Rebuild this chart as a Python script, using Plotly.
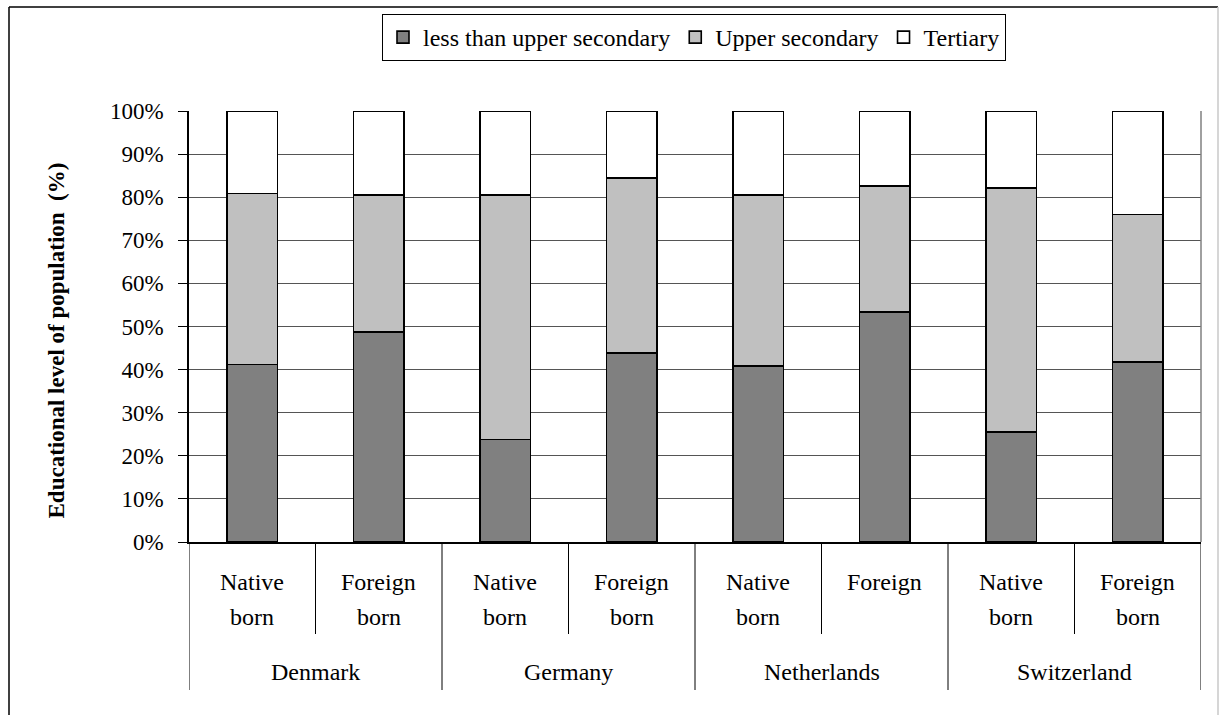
import plotly.graph_objects as go

# ---- data ----
countries = ["Denmark", "Germany", "Netherlands", "Switzerland"]
groups = ["Native born", "Foreign born", "Native born", "Foreign born",
          "Native born", "Foreign", "Native born", "Foreign born"]
bar_country = ["Denmark", "Denmark", "Germany", "Germany",
               "Netherlands", "Netherlands", "Switzerland", "Switzerland"]
less_than_upper_secondary = [41.2, 48.7, 23.8, 43.8, 40.8, 53.3, 25.5, 41.7]
upper_secondary = [39.7, 31.8, 56.7, 40.7, 39.7, 29.3, 56.6, 34.3]
tertiary = [19.1, 19.5, 19.5, 15.5, 19.5, 17.4, 17.9, 24.0]
series_names = ["less than upper secondary", "Upper secondary", "Tertiary"]
y_ticks = list(range(0, 101, 10))
y_tick_labels = [f"{v}%" for v in y_ticks]

# ---- layout helpers (pixel -> paper) ----
W, H = 1220, 715
L, R, T, B = 189, 19, 111, 173
PW, PH = W - L - R, H - T - B


def px(x):
    return (x - L) / PW


def py(y):
    return (H - B - y) / PH


keys = [f"{c}|{g}|{i}" for i, (c, g) in enumerate(zip(bar_country, groups))]
FONT = "Liberation Serif"
colors = ["#808080", "#C0C0C0", "#FFFFFF"]

fig = go.Figure()
for name, vals, col in zip(series_names,
                           [less_than_upper_secondary, upper_secondary, tertiary],
                           colors):
    fig.add_trace(go.Bar(
        x=keys, y=vals, name=name,
        marker=dict(color=col, line=dict(color="black", width=1.6)),
        width=0.4,
    ))

annotations = []
# inner (sub-category) labels
for k, g in zip(keys, groups):
    words = g.split(" ")
    annotations.append(dict(x=k, xref="x", y=py(582), yref="paper", text=words[0],
                            showarrow=False, yanchor="middle",
                            font=dict(size=24, family=FONT, color="black")))
    if len(words) > 1:
        annotations.append(dict(x=k, xref="x", y=py(617), yref="paper", text=words[1],
                                showarrow=False, yanchor="middle",
                                font=dict(size=24, family=FONT, color="black")))
# outer (country) labels
for ci, c in enumerate(countries):
    idx = [i for i, bc in enumerate(bar_country) if bc == c]
    annotations.append(dict(x=sum(idx) / len(idx), xref="x", y=py(672), yref="paper",
                            text=c, showarrow=False, yanchor="middle",
                            font=dict(size=24, family=FONT, color="black")))
# y-axis title
annotations.append(dict(x=px(41), xref="paper", y=py(341), yref="paper",
                        text="<b>Educational level of population\u00a0 (%)</b>",
                        textangle=-90, showarrow=False,
                        font=dict(size=23, family=FONT, color="black")))

shapes = []
n = len(keys)
# group dividers (full height) and sub dividers
for i in range(n + 1):
    pos = i - 0.5
    if i == 0 or i == n or bar_country[i - 1] != bar_country[i]:
        y1 = py(690)
    else:
        y1 = py(634)
    shapes.append(dict(type="line", xref="x", x0=pos, x1=pos, yref="paper",
                       y0=0, y1=y1, line=dict(color="black", width=1)))
# right plot border
shapes.append(dict(type="line", xref="paper", x0=1, x1=1, yref="paper", y0=0, y1=1,
                   line=dict(color="#808080", width=1.5)))
# outer chart frame
shapes.append(dict(type="line", xref="paper", x0=px(9), x1=px(1218), yref="paper",
                   y0=py(7), y1=py(7), line=dict(color="black", width=1.5)))
shapes.append(dict(type="line", xref="paper", x0=px(9), x1=px(9), yref="paper",
                   y0=py(7), y1=py(716), line=dict(color="black", width=1.5)))
shapes.append(dict(type="line", xref="paper", x0=px(1218), x1=px(1218), yref="paper",
                   y0=py(7), y1=py(716), line=dict(color="#C8C8C8", width=1.5)))

fig.update_layout(
    width=W, height=H,
    margin=dict(l=L, r=R, t=T, b=B),
    paper_bgcolor="white", plot_bgcolor="white",
    barmode="stack",
    font=dict(family=FONT, size=23, color="black"),
    showlegend=True,
    legend=dict(orientation="h", x=px(694), xanchor="center", y=py(14), yanchor="top",
                bordercolor="black", borderwidth=1, bgcolor="white",
                traceorder="normal", font=dict(size=24, family=FONT, color="black"),
                itemclick=False, itemdoubleclick=False),
    xaxis=dict(type="category", range=[-0.5, n - 0.5], showticklabels=False,
               showgrid=False, showline=True, linecolor="black", linewidth=1.5,
               ticks="", fixedrange=True),
    yaxis=dict(range=[0, 100], tickmode="array", tickvals=y_ticks, ticktext=y_tick_labels,
               ticks="outside",
               ticklen=9, tickcolor="black", showline=True, linecolor="black",
               linewidth=1.5, showgrid=True, gridcolor="#555555", gridwidth=1,
               zeroline=False, ticklabelstandoff=10, fixedrange=True,
               tickfont=dict(size=23, family=FONT, color="black")),
    annotations=annotations,
    shapes=shapes,
)

fig.write_html("out.html", config={"displayModeBar": False},
               post_script="document.body.style.margin='0';")
